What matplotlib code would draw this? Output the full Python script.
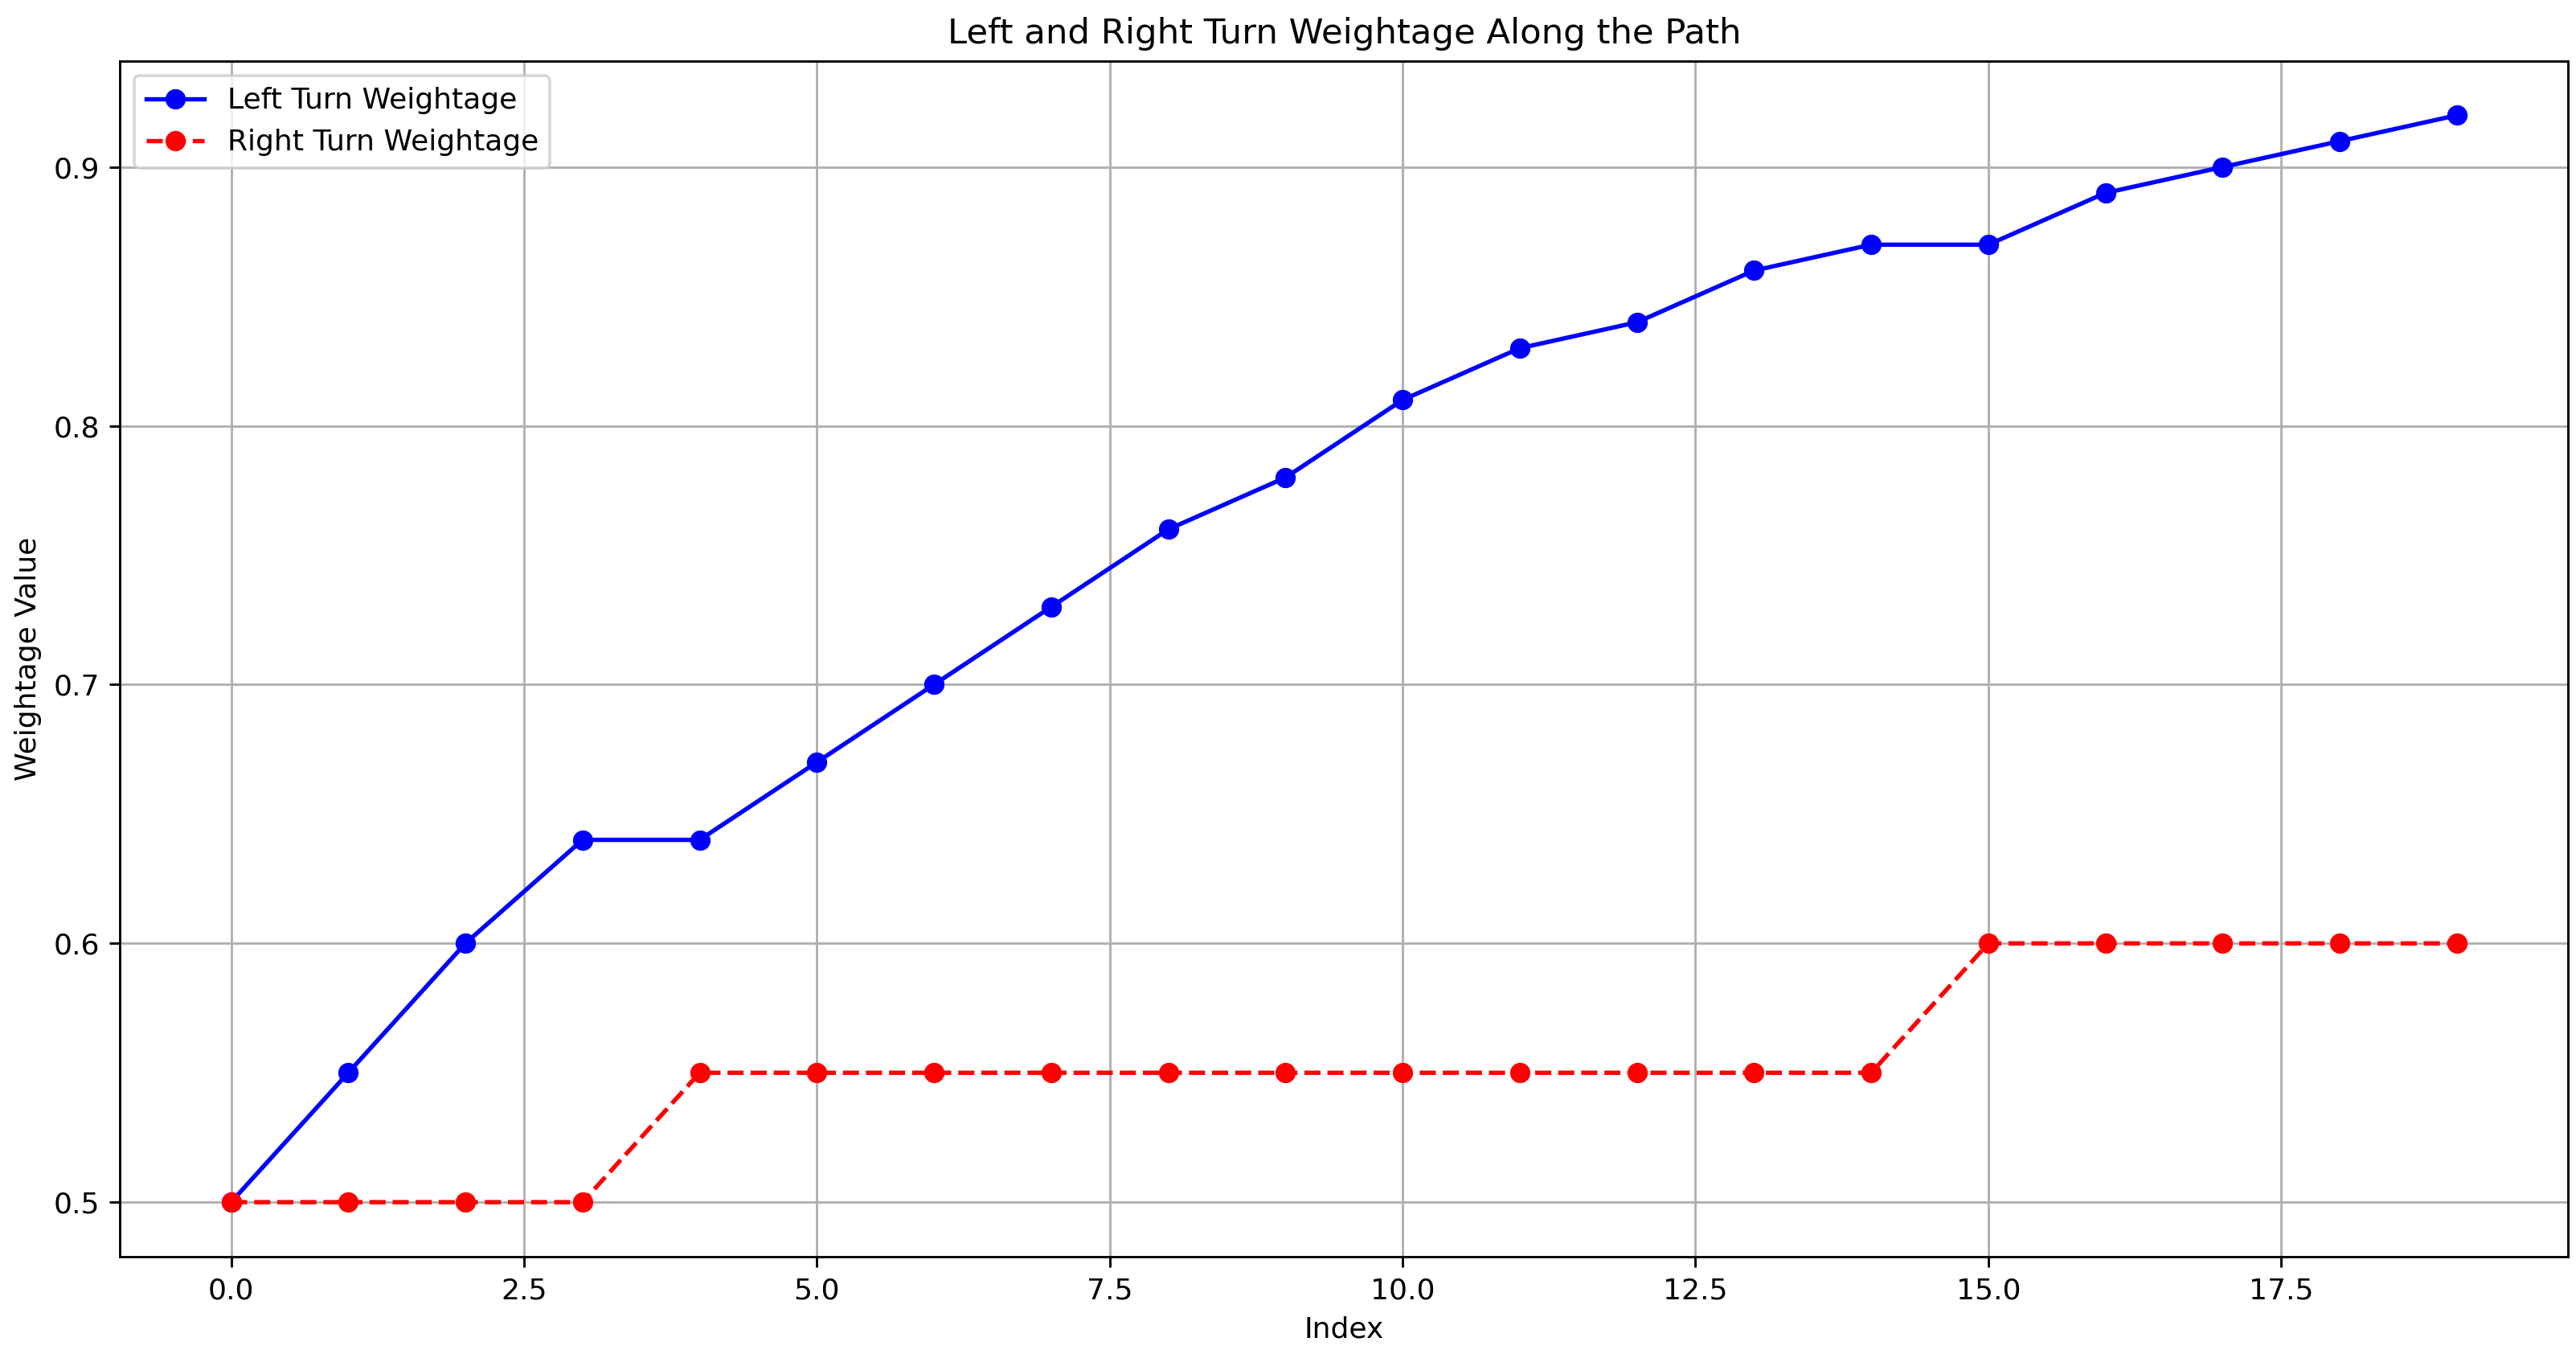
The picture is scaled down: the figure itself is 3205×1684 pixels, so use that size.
import numpy as np
import matplotlib
matplotlib.use('Agg')
import matplotlib.pyplot as plt

index = np.arange(20)
left_weight = [0.50, 0.55, 0.60, 0.64, 0.64, 0.67, 0.70, 0.73, 0.76, 0.78,
               0.81, 0.83, 0.84, 0.86, 0.87, 0.87, 0.89, 0.90, 0.91, 0.92]
right_weight = [0.50, 0.50, 0.50, 0.50, 0.55, 0.55, 0.55, 0.55, 0.55, 0.55,
                0.55, 0.55, 0.55, 0.55, 0.55, 0.60, 0.60, 0.60, 0.60, 0.60]

fig, ax = plt.subplots(figsize=(3205 / 260, 1684 / 260), dpi=260)
ax.plot(index, left_weight, marker='o', linestyle='-', color='blue', label='Left Turn Weightage')
ax.plot(index, right_weight, marker='o', linestyle='--', color='red', label='Right Turn Weightage')
ax.set_title('Left and Right Turn Weightage Along the Path')
ax.set_xlabel('Index')
ax.set_ylabel('Weightage Value')
ax.legend(loc='upper left')
ax.grid(True)
fig.subplots_adjust(left=0.0465, right=0.997, top=0.955, bottom=0.072)
fig.savefig('out.png', dpi=260)
plt.close()
